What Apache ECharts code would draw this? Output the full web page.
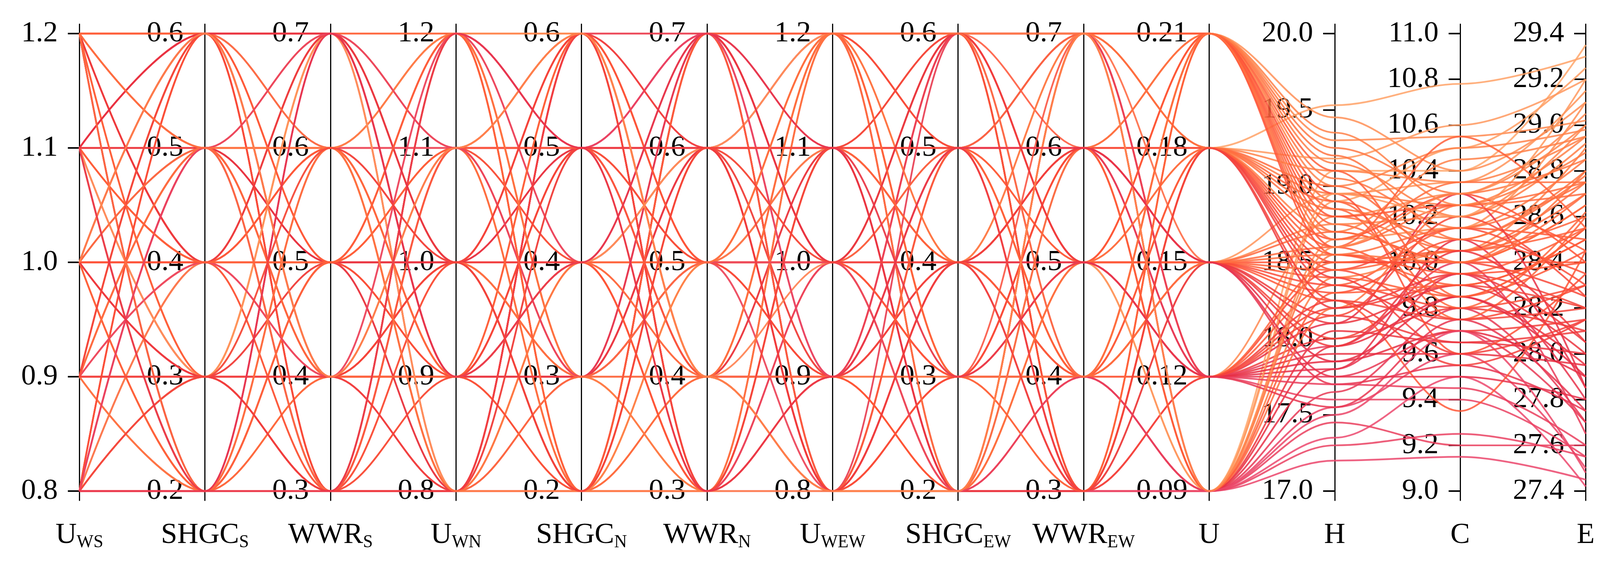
<!DOCTYPE html>
<html>
<head>
<meta charset="utf-8">
<title>parallel</title>
<script src="https://cdn.jsdelivr.net/npm/echarts@6/dist/echarts.min.js"></script>
<style>
  html, body { margin: 0; padding: 0; background: #fff; overflow: hidden; }
  #main { width: 100vw; height: 100vh; }
</style>
</head>
<body>
<div id="main"></div>
<script>
// one entry per design case (90 cases)
const uWS    = [1.2,0.8,1.0,0.9,1.1, 1.2,0.8,1.2,0.9,1.0, 1.1,0.8,1.2,0.9,1.0, 1.1,1.2,0.8,1.0,1.1,
                0.9,1.2,0.8,0.9,1.1, 1.0,1.2,0.8,0.9,1.1, 1.0,1.2,0.8,0.9,1.1, 1.0,1.2,0.8,0.9,1.1,
                1.0,1.2,0.8,0.9,1.1, 1.0,1.2,0.8,0.9,1.1, 1.0,1.2,0.8,0.9,1.1, 1.0,1.2,0.8,0.9,1.1,
                1.2,0.8,1.0,0.9,1.1, 1.2,0.8,1.0,0.9,1.1, 1.2,0.8,1.0,0.9,1.1, 1.2,0.8,1.0,0.9,1.1,
                1.2,0.8,1.0,0.9,1.1, 1.2,0.8,1.0,0.9,1.1];
const shgcS  = [0.6,0.2,0.4,0.3,0.5, 0.5,0.3,0.4,0.5,0.6, 0.2,0.4,0.3,0.6,0.2, 0.3,0.6,0.2,0.5,0.6,
                0.3,0.2,0.6,0.4,0.4, 0.3,0.4,0.5,0.2,0.5, 0.4,0.3,0.4,0.6,0.2, 0.5,0.2,0.3,0.5,0.6,
                0.2,0.5,0.2,0.4,0.3, 0.6,0.6,0.5,0.3,0.4, 0.3,0.4,0.6,0.2,0.5, 0.4,0.2,0.3,0.5,0.6,
                0.5,0.4,0.6,0.2,0.3, 0.4,0.5,0.2,0.6,0.4, 0.3,0.6,0.5,0.4,0.2, 0.6,0.3,0.4,0.5,0.6,
                0.2,0.5,0.3,0.6,0.4, 0.5,0.2,0.6,0.3,0.2];
const wwrS   = [0.7,0.3,0.5,0.4,0.6, 0.5,0.5,0.3,0.3,0.4, 0.5,0.7,0.6,0.5,0.6, 0.7,0.6,0.4,0.6,0.3,
                0.7,0.7,0.3,0.4,0.6, 0.3,0.5,0.4,0.6,0.4, 0.7,0.4,0.6,0.3,0.7, 0.5,0.4,0.3,0.7,0.6,
                0.4,0.3,0.5,0.5,0.3, 0.7,0.4,0.6,0.4,0.7, 0.5,0.6,0.7,0.3,0.5, 0.3,0.5,0.7,0.4,0.4,
                0.4,0.6,0.3,0.5,0.7, 0.7,0.3,0.5,0.6,0.4, 0.3,0.5,0.7,0.4,0.6, 0.5,0.4,0.6,0.3,0.7,
                0.6,0.7,0.3,0.4,0.5, 0.6,0.7,0.4,0.6,0.3];
const uWN    = [1.2,0.8,1.0,0.9,1.1, 0.9,1.1,1.1,1.0,1.1, 1.2,0.9,0.8,0.8,0.9, 1.0,1.1,0.9,1.2,0.9,
                1.2,0.8,1.2,1.0,1.0, 1.2,0.9,0.9,1.1,0.8, 1.0,1.2,0.8,1.0,1.1, 0.8,1.0,1.1,0.9,1.2,
                0.9,0.8,1.0,1.1,0.8, 0.9,1.0,1.2,0.8,1.1, 1.0,0.9,0.8,1.2,1.0, 1.1,1.2,1.0,0.9,1.1,
                1.0,1.2,0.9,1.1,0.8, 0.9,1.1,1.2,0.8,1.0, 1.1,0.9,1.0,1.2,0.8, 1.1,0.8,0.9,1.2,1.0,
                0.9,1.1,0.8,1.0,1.2, 0.8,0.9,1.1,1.0,1.2];
const shgcN  = [0.6,0.2,0.4,0.3,0.5, 0.2,0.6,0.3,0.6,0.2, 0.3,0.5,0.4,0.5,0.6, 0.2,0.4,0.4,0.6,0.3,
                0.2,0.6,0.2,0.3,0.5, 0.5,0.5,0.4,0.6,0.2, 0.3,0.4,0.3,0.4,0.5, 0.6,0.2,0.5,0.3,0.4,
                0.2,0.6,0.6,0.2,0.3, 0.5,0.3,0.5,0.6,0.2, 0.4,0.6,0.4,0.3,0.5, 0.3,0.5,0.2,0.6,0.4,
                0.2,0.3,0.5,0.6,0.4, 0.3,0.5,0.2,0.4,0.6, 0.6,0.2,0.3,0.5,0.2, 0.5,0.6,0.4,0.3,0.2,
                0.4,0.3,0.5,0.6,0.2, 0.3,0.4,0.6,0.2,0.5];
const wwrN   = [0.7,0.3,0.5,0.4,0.6, 0.7,0.3,0.7,0.4,0.5, 0.6,0.3,0.7,0.4,0.5, 0.6,0.5,0.5,0.3,0.6,
                0.3,0.3,0.7,0.5,0.5, 0.6,0.3,0.7,0.5,0.4, 0.7,0.4,0.6,0.3,0.7, 0.4,0.5,0.6,0.7,0.3,
                0.4,0.6,0.4,0.6,0.5, 0.7,0.3,0.5,0.7,0.4, 0.6,0.5,0.6,0.3,0.4, 0.5,0.7,0.3,0.4,0.6,
                0.7,0.3,0.5,0.4,0.6, 0.6,0.4,0.7,0.3,0.5, 0.3,0.6,0.4,0.7,0.5, 0.4,0.6,0.3,0.5,0.7,
                0.4,0.5,0.6,0.3,0.7, 0.5,0.7,0.4,0.6,0.3];
const uWEW   = [1.2,0.8,1.0,0.9,1.1, 1.1,0.9,1.0,1.1,1.2, 0.8,1.0,0.9,1.2,0.8, 0.9,0.9,1.1,0.8,1.0,
                1.1,1.2,0.8,0.9,1.1, 1.2,0.9,1.0,0.8,1.2, 1.1,0.8,1.2,1.0,0.9, 0.8,1.1,1.1,0.8,1.0,
                1.2,0.8,0.9,1.1,1.0, 1.2,0.9,1.2,1.0,0.8, 0.9,1.0,0.8,1.2,1.1, 1.0,0.8,1.1,0.9,1.2,
                1.0,1.1,0.9,1.0,1.2, 1.1,0.9,0.8,1.2,1.0, 1.1,0.8,1.2,0.9,1.0, 0.8,1.1,0.9,1.2,1.0,
                0.9,1.0,0.8,1.1,1.2, 1.2,1.1,0.8,1.0,0.9];
const shgcEW = [0.6,0.2,0.4,0.3,0.5, 0.4,0.4,0.2,0.2,0.3, 0.4,0.6,0.5,0.6,0.5, 0.6,0.3,0.5,0.3,0.6,
                0.5,0.2,0.2,0.4,0.4, 0.2,0.6,0.5,0.4,0.3, 0.2,0.5,0.6,0.3,0.4, 0.6,0.3,0.2,0.5,0.4,
                0.6,0.3,0.4,0.6,0.2, 0.5,0.2,0.4,0.3,0.2, 0.5,0.6,0.3,0.5,0.4, 0.3,0.4,0.6,0.2,0.5,
                0.5,0.4,0.6,0.2,0.3, 0.2,0.6,0.5,0.4,0.3, 0.4,0.3,0.2,0.5,0.6, 0.4,0.5,0.2,0.3,0.6,
                0.5,0.2,0.4,0.6,0.3, 0.6,0.3,0.2,0.4,0.5];
const wwrEW  = [0.7,0.3,0.5,0.4,0.6, 0.4,0.6,0.6,0.5,0.6, 0.7,0.4,0.3,0.3,0.4, 0.5,0.3,0.7,0.4,0.3,
                0.5,0.7,0.3,0.4,0.6, 0.4,0.6,0.7,0.3,0.5, 0.3,0.5,0.4,0.7,0.6, 0.5,0.4,0.6,0.7,0.3,
                0.7,0.4,0.5,0.3,0.4, 0.6,0.5,0.4,0.6,0.7, 0.3,0.7,0.5,0.4,0.4, 0.6,0.5,0.3,0.7,0.6,
                0.4,0.7,0.3,0.6,0.5, 0.3,0.7,0.4,0.6,0.5, 0.4,0.6,0.5,0.3,0.7, 0.6,0.3,0.7,0.4,0.5,
                0.7,0.4,0.6,0.5,0.3, 0.4,0.5,0.7,0.3,0.6];
const uAll   = [0.21,0.09,0.15,0.12,0.18, 0.09,0.21,0.12,0.21,0.09, 0.12,0.18,0.15,0.18,0.21, 0.09,0.09,0.21,0.15,0.18,
                0.15,0.09,0.21,0.15,0.15, 0.15,0.18,0.12,0.09,0.21, 0.12,0.18,0.09,0.18,0.12, 0.15,0.21,0.15,0.09,0.12,
                0.18,0.09,0.12,0.21,0.18, 0.09,0.15,0.21,0.12,0.09, 0.18,0.12,0.15,0.21,0.09, 0.21,0.12,0.18,0.15,0.18,
                0.15,0.18,0.12,0.21,0.09, 0.15,0.12,0.18,0.09,0.21, 0.12,0.15,0.18,0.09,0.21, 0.09,0.18,0.21,0.15,0.12,
                0.18,0.09,0.15,0.12,0.21, 0.21,0.12,0.09,0.18,0.15];
const hVal   = [19.30,17.20,18.50,18.00,19.53, 19.10,19.05,18.80,18.90,18.90, 18.35,19.18,18.95,18.95,19.45, 18.65,18.40,18.75,18.75,18.80,
                18.40,17.45,19.15,18.30,18.15, 18.00,18.65,17.90,17.55,18.60, 18.10,18.55,17.35,18.45,17.75, 17.85,19.00,17.70,17.65,17.60,
                18.90,17.80,18.20,18.85,18.35, 18.05,18.60,19.20,17.95,18.20, 18.20,18.45,18.25,18.70,17.95, 18.95,17.80,18.70,18.45,18.50,
                18.70,19.10,18.15,19.25,18.95, 18.10,17.70,18.60,18.55,18.80, 18.50,18.35,18.85,17.50,19.35, 18.30,18.40,18.55,18.55,17.85,
                19.00,17.30,17.95,18.25,19.10, 18.65,17.55,18.60,18.25,17.75];
const cVal   = [10.55,9.15,10.00,9.80,10.78, 10.40,10.15,10.30,10.05,10.50, 10.15,10.60,10.35,10.25,10.40, 10.15,10.05,9.95,10.20,10.05,
                9.85,9.20,10.20,10.10,9.65, 9.95,10.30,9.60,9.60,9.85, 10.30,9.90,9.50,10.15,9.70, 9.70,10.50,9.55,9.80,9.40,
                9.80,10.10,9.90,9.75,9.70, 9.65,10.25,10.10,10.00,10.25, 9.95,9.75,9.35,10.00,9.85, 9.60,9.95,10.45,10.05,10.00,
                10.00,10.35,10.20,10.30,10.20, 9.90,9.45,10.55,10.00,10.25, 10.05,9.80,10.10,9.70,10.25, 9.90,9.60,9.95,10.15,9.85,
                10.00,9.25,10.05,9.55,9.85, 10.35,9.75,10.30,9.75,9.50];
const eVal   = [29.02,27.45,28.40,28.10,29.30, 29.35,28.85,29.05,28.70,29.25, 28.50,29.20,29.15,28.88,29.10, 29.10,28.90,28.55,29.00,28.75,
                28.55,27.60,28.92,28.35,28.10, 28.20,28.40,27.95,27.50,28.45, 27.85,28.50,27.42,28.30,27.70, 27.90,28.98,27.75,27.70,27.55,
                28.62,27.85,28.20,28.60,28.15, 28.00,28.70,28.80,27.65,28.75, 28.05,28.30,28.45,28.65,27.95, 28.35,27.80,28.95,28.60,28.25,
                28.65,28.95,28.25,28.85,29.20, 28.00,27.60,28.55,28.80,28.45, 28.55,28.30,28.78,27.48,28.95, 28.50,28.15,28.40,28.75,27.90,
                28.70,27.55,28.05,28.15,28.55, 28.75,27.75,29.00,28.20,27.80];

// tick labels of every axis
const ticksU1  = [0.8, 0.9, 1.0, 1.1, 1.2];
const ticksSH  = [0.2, 0.3, 0.4, 0.5, 0.6];
const ticksWWR = [0.3, 0.4, 0.5, 0.6, 0.7];
const ticksU   = [0.09, 0.12, 0.15, 0.18, 0.21];
const ticksH   = [17.0, 17.5, 18.0, 18.5, 19.0, 19.5, 20.0];
const ticksC   = [9.0, 9.2, 9.4, 9.6, 9.8, 10.0, 10.2, 10.4, 10.6, 10.8, 11.0];
const ticksE   = [27.4, 27.6, 27.8, 28.0, 28.2, 28.4, 28.6, 28.8, 29.0, 29.2, 29.4];

const axisNames = [['U', 'WS'], ['SHGC', 'S'], ['WWR', 'S'], ['U', 'WN'], ['SHGC', 'N'], ['WWR', 'N'],
                   ['U', 'WEW'], ['SHGC', 'EW'], ['WWR', 'EW'], ['U', ''], ['H', ''], ['C', ''], ['E', '']];
const axisTicks = [ticksU1, ticksSH, ticksWWR, ticksU1, ticksSH, ticksWWR, ticksU1, ticksSH, ticksWWR,
                   ticksU, ticksH, ticksC, ticksE];
const axisDec = [1, 1, 1, 1, 1, 1, 1, 1, 1, 2, 1, 1, 1];
const columns = [uWS, shgcS, wwrS, uWN, shgcN, wwrN, uWEW, shgcEW, wwrEW, uAll, hVal, cVal, eVal];

const lineColors = ['#EC4A70', '#E62E44', '#FF5436', '#FF7C45', '#FFAC70'];

// layout is written for a 4150 x 1473 page and scaled to the real one
const dom = document.getElementById('main');
const sx = dom.clientWidth / 4150;
const sy = dom.clientHeight / 1473;
const sf = Math.min(sx, sy);
const LEFT = 206 * sx, RIGHT = 37 * sx, TOP = 62 * sy, BOTTOM = 191 * sy;
const STEP = (dom.clientWidth - LEFT - RIGHT) / (columns.length - 1);
const PAD = 24 / 1176; // axis line runs a little past the end ticks
const FONT = 'Liberation Serif';

// position of a value inside its own axis (0 = first tick, 1 = last tick)
function toUnit(k, v) {
    const t = axisTicks[k];
    return (v - t[0]) / (t[t.length - 1] - t[0]);
}

const yAxis = axisNames.map((nm, k) => {
    const t = axisTicks[k];
    const span = t[t.length - 1] - t[0];
    return {
        type: 'value',
        position: 'left',
        offset: -k * STEP,
        min: t[0] - span * PAD,
        max: t[t.length - 1] + span * PAD,
        name: nm[1] ? `{m|${nm[0]}}{s|${nm[1]}}` : `{m|${nm[0]}}`,
        nameLocation: 'start',
        nameGap: 52 * sy,
        nameTextStyle: {
            color: '#000',
            rich: {
                m: { fontFamily: FONT, fontSize: 76 * sf, color: '#000', verticalAlign: 'top', lineHeight: 80 * sf },
                s: { fontFamily: FONT, fontSize: 46 * sf, color: '#000', verticalAlign: 'bottom', lineHeight: 46 * sf,
                     padding: [68 * sf, 0, 0, 0] }
            }
        },
        axisLine: { show: true, lineStyle: { color: '#000', width: 3 * sf } },
        axisTick: { show: true, customValues: t, length: 30 * sf, lineStyle: { color: '#000', width: 4 * sf } },
        axisLabel: {
            show: true,
            customValues: t,
            margin: 56 * sf,
            color: '#000',
            fontFamily: FONT,
            fontSize: 76 * sf,
            formatter: v => Number(v).toFixed(axisDec[k])
        },
        splitLine: { show: false }
    };
});
// shared hidden scale the polylines are drawn on
yAxis.push({ type: 'value', min: -PAD, max: 1 + PAD, show: false });
const lineAxis = yAxis.length - 1;

const series = uWS.map((_, i) => ({
    type: 'line',
    yAxisIndex: lineAxis,
    data: columns.map((col, k) => [k, toUnit(k, col[i])]),
    smooth: 0.35,
    smoothMonotone: 'x',
    symbol: 'none',
    silent: true,
    lineStyle: {
        width: 4.5 * sf,
        opacity: 0.85,
        color: echarts.color.lerp(toUnit(12, eVal[i]), lineColors)
    }
}));

const chart = echarts.init(dom);
chart.setOption({
    backgroundColor: '#fff',
    animation: false,
    grid: { left: LEFT, right: RIGHT, top: TOP, bottom: BOTTOM, containLabel: false, outerBoundsMode: 'none' },
    xAxis: { type: 'value', min: 0, max: columns.length - 1, show: false },
    yAxis: yAxis,
    series: series
});
</script>
</body>
</html>
